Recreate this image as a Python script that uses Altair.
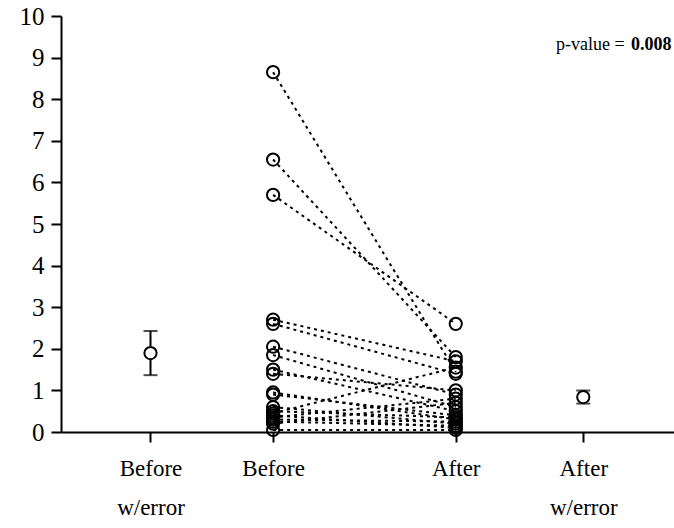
import altair as alt
import numpy as np
import pandas as pd

# Category positions along the x axis
categories = ["Before w/error", "Before", "After", "After w/error"]
category_pos = [0.73, 1.73, 3.22, 4.26]

# Paired measurements (same subject, before and after)
before = [8.65, 6.55, 5.7, 2.7, 2.6, 2.05, 1.85, 1.5, 1.4, 0.95,
          0.9, 0.6, 0.5, 0.45, 0.4, 0.35, 0.3, 0.25, 0.2, 0.05]
after = [1.45, 1.8, 2.6, 1.7, 1.4, 0.9, 0.6, 0.5, 1.0, 0.3,
         0.4, 0.2, 0.35, 1.55, 0.1, 0.8, 0.25, 0.15, 0.7, 0.05]

p_value_text = "p-value ="
p_value = "0.008"

n = len(before)
paired = pd.concat([
    pd.DataFrame({"subject": range(n), "group": "Before", "x": category_pos[1], "value": before}),
    pd.DataFrame({"subject": range(n), "group": "After", "x": category_pos[2], "value": after}),
])

def summarize(vals, pos, name):
    arr = np.asarray(vals)
    m = arr.mean()
    sem = arr.std(ddof=1) / np.sqrt(len(arr))
    return {"group": name, "x": pos, "mean": m, "lo": m - sem, "hi": m + sem}

summary = pd.DataFrame([
    summarize(before, category_pos[0], categories[0]),
    summarize(after, category_pos[3], categories[3]),
])

label_expr = (
    "datum.value < 1.2 ? ['Before', 'w/error'] : "
    "datum.value < 2.5 ? 'Before' : "
    "datum.value < 4 ? 'After' : ['After', 'w/error']"
)

x_scale = alt.Scale(domain=[0, 5], nice=False, zero=False)
y_scale = alt.Scale(domain=[0, 10], nice=False)

x_axis = alt.Axis(values=category_pos, labelExpr=label_expr, title=None,
                  labelBaseline="top", labelPadding=15, labelLineHeight=39,
                  labelFontSize=23)
y_axis = alt.Axis(values=list(range(11)), title=None, labelPadding=7,
                  labelFontSize=25)

base = alt.Chart(paired)

lines = base.mark_line(color="black", strokeWidth=2, strokeDash=[3, 4]).encode(
    x=alt.X("x:Q", scale=x_scale, axis=x_axis),
    y=alt.Y("value:Q", scale=y_scale, axis=y_axis),
    detail="subject:N",
)

points = base.mark_point(shape="circle", filled=False, color="black",
                         size=150, strokeWidth=2, opacity=1).encode(
    x=alt.X("x:Q", scale=x_scale),
    y=alt.Y("value:Q", scale=y_scale),
)

sbase = alt.Chart(summary)
err_rule = sbase.mark_rule(color="black", strokeWidth=2).encode(
    x=alt.X("x:Q", scale=x_scale),
    y=alt.Y("lo:Q", scale=y_scale),
    y2="hi:Q",
)
cap_lo = sbase.mark_tick(color="black", orient="horizontal", size=14, thickness=2).encode(
    x=alt.X("x:Q", scale=x_scale),
    y=alt.Y("lo:Q", scale=y_scale),
)
cap_hi = sbase.mark_tick(color="black", orient="horizontal", size=14, thickness=2).encode(
    x=alt.X("x:Q", scale=x_scale),
    y=alt.Y("hi:Q", scale=y_scale),
)
mean_pts = sbase.mark_point(shape="circle", filled=True, fill="white", stroke="black",
                            size=150, strokeWidth=2, opacity=1).encode(
    x=alt.X("x:Q", scale=x_scale),
    y=alt.Y("mean:Q", scale=y_scale),
)

p_bold = alt.Chart().mark_text(
    text=p_value, font="Liberation Serif", fontSize=18, fontWeight="bold",
    align="right", baseline="middle", color="black",
).encode(x=alt.datum(4.98, scale=x_scale), y=alt.datum(9.3, scale=y_scale))

p_label = alt.Chart().mark_text(
    text=p_value_text, font="Liberation Serif", fontSize=18,
    align="right", baseline="middle", color="black", dx=-47,
).encode(x=alt.datum(4.98, scale=x_scale), y=alt.datum(9.3, scale=y_scale))

chart = alt.layer(
    lines, err_rule, cap_lo, cap_hi, points, mean_pts, p_bold, p_label
).properties(
    width=613, height=416,
    autosize=alt.AutoSizeParams(type="none"),
    padding={"left": 61, "top": 16, "right": 0, "bottom": 96},
    background="white",
).configure_view(stroke=None).configure_axis(
    domainColor="black", domainWidth=2, tickColor="black", tickWidth=2,
    tickSize=10, grid=False, labelFont="Liberation Serif", labelColor="black",
)

chart.save("out.html", embed_options={"renderer": "svg", "actions": False})
